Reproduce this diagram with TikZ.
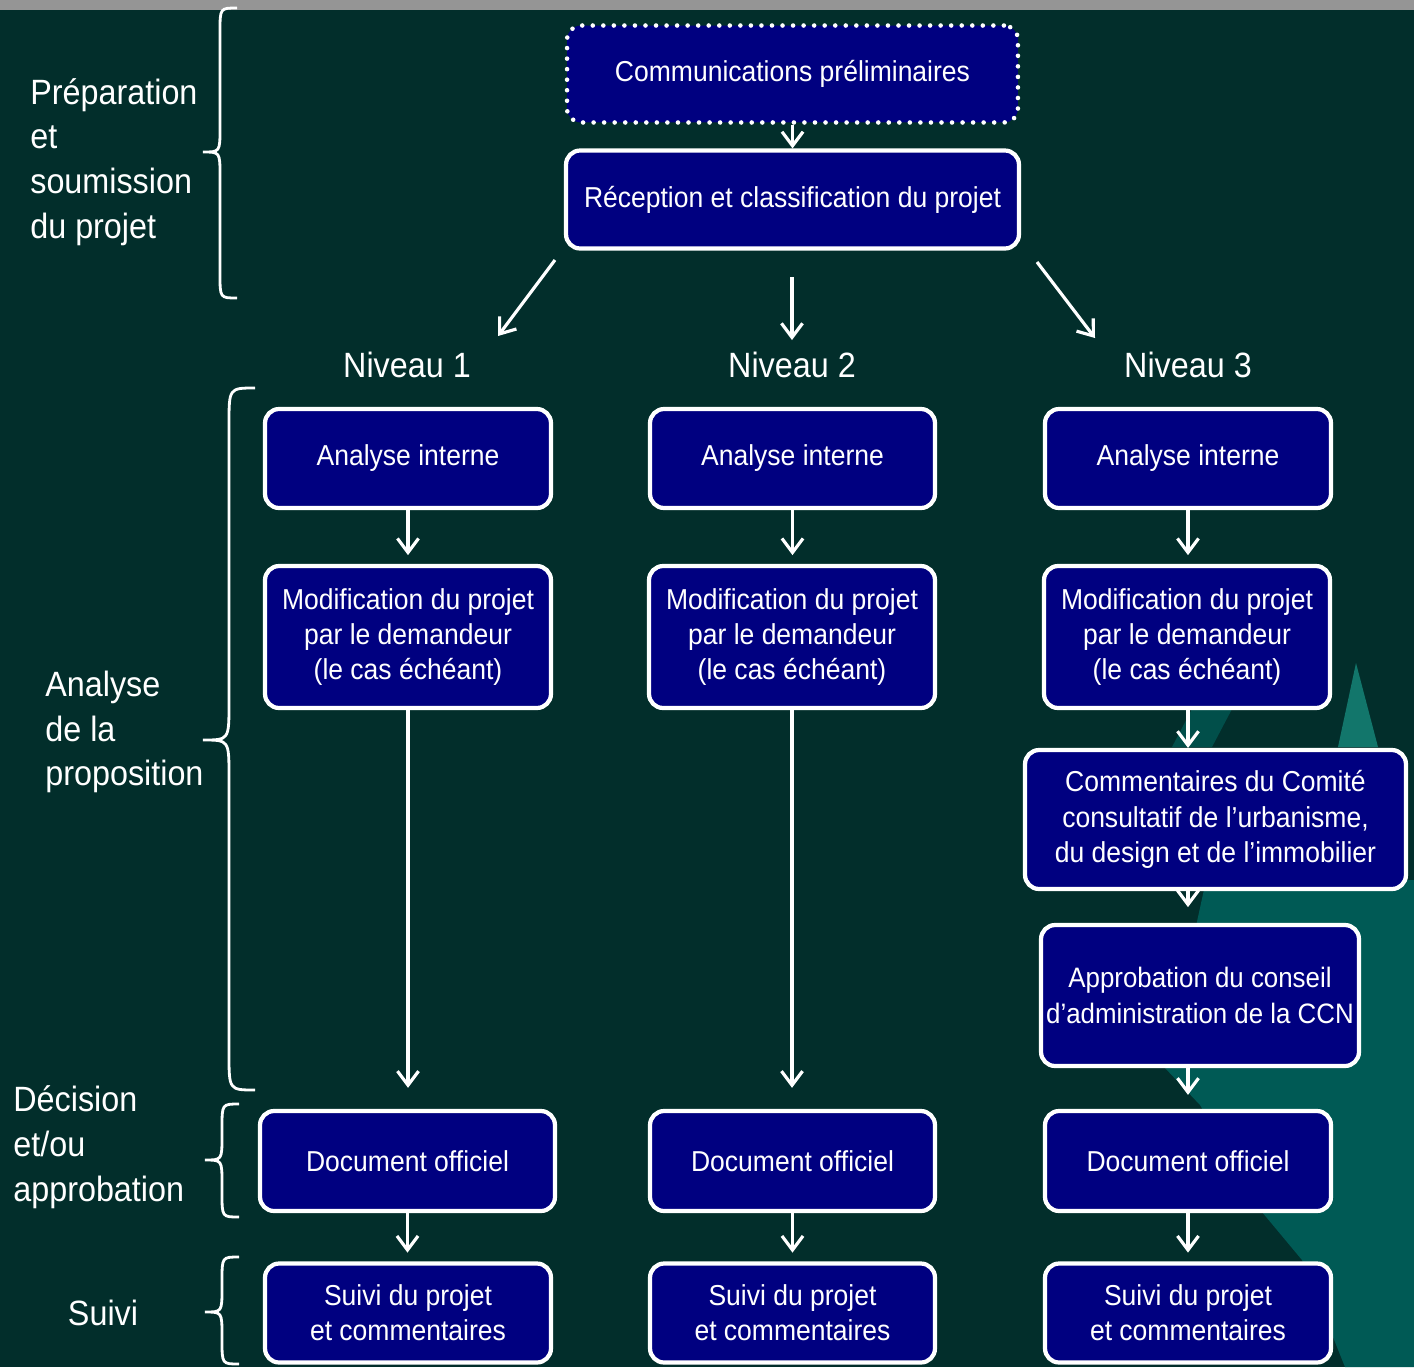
\documentclass[tikz,border=0pt]{standalone}
\usepackage{fontspec}
\setmainfont{Liberation Sans}
\newfontfamily\narrowfont{Liberation Sans}[FakeStretch=0.92]
\usetikzlibrary{arrows.meta,calc}
\definecolor{bgc}{HTML}{022E2B}
\definecolor{navy}{HTML}{000080}
\definecolor{tealc}{HTML}{005A55}
\definecolor{spikec}{HTML}{12766B}
\definecolor{stripc}{HTML}{959595}
\tikzset{
  box/.style={draw=white, line width=2.4pt, fill=navy, rounded corners=8pt, text=white,
    align=center, inner sep=0pt, font=\narrowfont\fontsize{16.4}{20}\selectfont},
  dotbox/.style={box, line width=2.6pt, line cap=round, dash pattern=on 0pt off 6pt},
  arr/.style={draw=white, line width=1.8pt, -{Straight Barb[length=8pt,width=12pt]}},
  brc/.style={draw=white, line width=1.6pt},
  lvl/.style={text=white, inner sep=0pt, font=\narrowfont\fontsize{20}{24}\selectfont},
  lbl/.style={text=white, inner sep=0pt, align=left, anchor=west, font=\narrowfont\fontsize{20}{25.5}\selectfont},
}
\newcommand\pxbrace[5]{%
  \draw[brc] (#1+#5,#2) .. controls (#1,#2) .. (#1,#2+#5*1.4) -- (#1,#3-#5*1.4)
    .. controls (#1,#3) .. (#1-#5,#3) .. controls (#1,#3) .. (#1,#3+#5*1.4)
    -- (#1,#4-#5*1.4) .. controls (#1,#4) .. (#1+#5,#4);}
\begin{document}
\begin{tikzpicture}[x=0.02cm,y=-0.02cm]
\useasboundingbox (0,0) rectangle (1414,1367);
% background
\fill[bgc] (0,0) rectangle (1414,1367);
\fill[tealc] (1205,885) -- (1165,1068) -- (1200,1105) -- (1262,1212) -- (1302,1260)
  -- (1345,1367) -- (1414,1367) -- (1414,880) -- cycle;
\fill[tealc!75!bgc] (1172,747) -- (1192,709) -- (1232,709) -- (1212,747) -- cycle;
\fill[spikec] (1356,663) -- (1378,747) -- (1338,747) -- cycle;
\fill[stripc] (0,0) rectangle (1414,10);

% braces
\pxbrace{220}{8}{152}{298}{17}
\pxbrace{229}{388}{740}{1090}{26}
\pxbrace{222}{1104}{1160}{1217}{17}
\pxbrace{222}{1257}{1312}{1364}{17}

% left labels
\node[lbl] (lprep) at (30,162) {Préparation\\et\\soumission\\du projet};
\node[lbl] (lana) at (45,732) {Analyse\\de la\\proposition};
\node[lbl] (ldec) at (13,1147) {Décision\\et/ou\\approbation};
\node[lvl] (lsui) at (103,1313) {Suivi};

% top boxes
\node[dotbox, minimum width=9.02cm, minimum height=1.94cm] (comm) at (792.5,74) {Communications préliminaires};
\node[box, minimum width=9.06cm, minimum height=1.96cm] (rec) at (792.5,199.5) {Réception et classification du projet};
\draw[arr] (comm) -- (rec);

% levels
\node[lvl] (niv1) at (407,365) {Niveau 1};
\node[lvl] (niv2) at (792,365) {Niveau 2};
\node[lvl] (niv3) at (1188,365) {Niveau 3};
\coordinate (r1) at (555,260); \coordinate (n1) at (498,336);
\coordinate (r2) at (792,277); \coordinate (n2) at (792,340);
\coordinate (r3) at (1037,262); \coordinate (n3) at (1095,338);
\draw[arr] (r1) -- (n1);
\draw[arr] (r2) -- (n2);
\draw[arr] (r3) -- (n3);

% column boxes
\node[box, minimum width=5.72cm, minimum height=1.98cm] (a1) at (408,458.5) {Analyse interne};
\node[box, minimum width=5.70cm, minimum height=1.98cm] (a2) at (792.5,458.5) {Analyse interne};
\node[box, minimum width=5.72cm, minimum height=1.98cm] (a3) at (1188,458.5) {Analyse interne};

\node[box, minimum width=5.72cm, minimum height=2.84cm] (m1) at (408,637) {Modification du projet\\par le demandeur\\(le cas échéant)};
\node[box, minimum width=5.72cm, minimum height=2.84cm] (m2) at (792,637) {Modification du projet\\par le demandeur\\(le cas échéant)};
\node[box, minimum width=5.72cm, minimum height=2.84cm] (m3) at (1187,637) {Modification du projet\\par le demandeur\\(le cas échéant)};

\node[box, minimum width=7.62cm, minimum height=2.78cm] (com3) at (1215.5,819.5) {Commentaires du Comité\\consultatif de l’urbanisme,\\du design et de l’immobilier};
\node[box, minimum width=6.36cm, minimum height=2.82cm, font=\narrowfont\fontsize{16}{20}\selectfont] (app3) at (1200,995.5) {Approbation du conseil\\d’administration de la CCN};

\node[box, minimum width=5.90cm, minimum height=2.0cm] (d1) at (407.5,1161) {Document officiel};
\node[box, minimum width=5.70cm, minimum height=2.0cm] (d2) at (792.5,1161) {Document officiel};
\node[box, minimum width=5.72cm, minimum height=2.0cm] (d3) at (1188,1161) {Document officiel};

\node[box, minimum width=5.72cm, minimum height=1.98cm] (s1) at (408,1313) {Suivi du projet\\et commentaires};
\node[box, minimum width=5.70cm, minimum height=1.98cm] (s2) at (792.5,1313) {Suivi du projet\\et commentaires};
\node[box, minimum width=5.72cm, minimum height=1.98cm] (s3) at (1188,1313) {Suivi du projet\\et commentaires};

% column arrows
\draw[arr, shorten >=5pt] (a1.south) -- (a1.south |- m1.north);
\draw[arr, shorten >=5pt] (a2.south) -- (a2.south |- m2.north);
\draw[arr, shorten >=5pt] (a3.south) -- (a3.south |- m3.north);
\draw[arr, shorten >=12pt] (m1.south) -- (m1.south |- d1.north);
\draw[arr, shorten >=12pt] (m2.south) -- (m2.south |- d2.north);
\draw[arr] (a3.south |- m3.south) -- (a3.south |- com3.north);
\draw[arr, shorten >=9pt] (a3.south |- com3.south) -- (a3.south |- app3.north);
\draw[arr, shorten >=8pt] (a3.south |- app3.south) -- (a3.south |- d3.north);
\draw[arr, shorten >=5pt] (d1.south) -- (d1.south |- s1.north);
\draw[arr, shorten >=5pt] (d2.south) -- (d2.south |- s2.north);
\draw[arr, shorten >=5pt] (d3.south) -- (d3.south |- s3.north);
\end{tikzpicture}
\end{document}
